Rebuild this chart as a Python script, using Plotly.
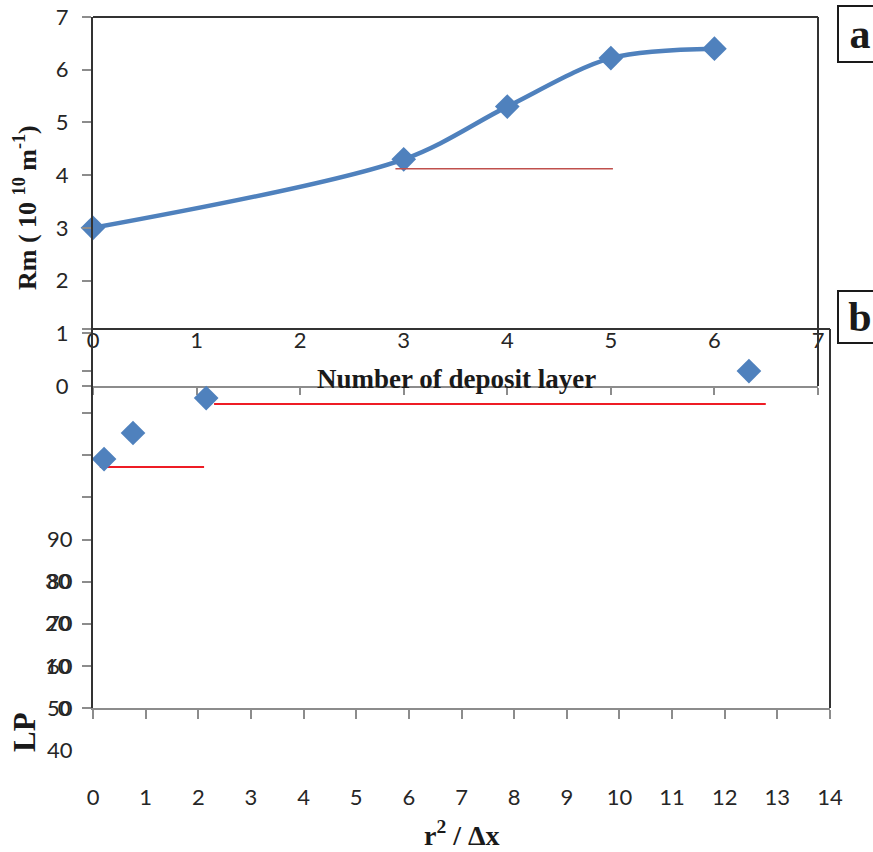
import plotly.graph_objects as go

W, H = 873, 852

# ---------------- data ----------------
# panel a
layers = [0, 3, 4, 5, 6]
rm_values = [3.0, 4.3, 5.3, 6.22, 6.4]
a_ticks = [0, 1, 2, 3, 4, 5, 6, 7]
a_red_x = [2.92, 5.02]
a_red_y = [4.12, 4.12]

# panel b
r2dx = [0.21, 0.76, 2.15, 12.46]
lp_values = [59.1, 65.3, 73.6, 80.0]
b_xticks = list(range(0, 15))
b_ylabels_low = [0, 10, 20, 30]
b_yticks_minor = [40, 50, 60, 70, 80, 90]
b_ylabels_high = [40, 50, 60, 70, 80, 90]
b_red1_x = [0.13, 2.11]
b_red1_y = [57.2, 57.2]
b_red2_x = [2.30, 12.78]
b_red2_y = [72.2, 72.2]


def px(x):
    return x / W


def py(y):
    return 1 - y / H


BLUE = "#4F81BD"
GRAY = "#8C8C8C"
DARK = "#333333"
TICKFONT = dict(family="Lato", size=22, color="#262626")
SERIF = "Liberation Serif"

fig = go.Figure()

fig.add_trace(go.Scatter(
    x=layers, y=rm_values, mode="lines+markers",
    line=dict(color=BLUE, width=4.5, shape="spline", smoothing=0.9),
    marker=dict(symbol="diamond", size=19, color=BLUE),
    xaxis="x", yaxis="y", cliponaxis=False, showlegend=False))
fig.add_trace(go.Scatter(
    x=a_red_x, y=a_red_y, mode="lines",
    line=dict(color="#C0504D", width=1.6),
    xaxis="x", yaxis="y", showlegend=False))

fig.add_trace(go.Scatter(
    x=b_red1_x, y=b_red1_y, mode="lines",
    line=dict(color="#EE1C25", width=2),
    xaxis="x2", yaxis="y2", showlegend=False))
fig.add_trace(go.Scatter(
    x=b_red2_x, y=b_red2_y, mode="lines",
    line=dict(color="#EE1C25", width=2),
    xaxis="x2", yaxis="y2", showlegend=False))
fig.add_trace(go.Scatter(
    x=r2dx, y=lp_values, mode="markers",
    marker=dict(symbol="diamond", size=19, color=BLUE),
    xaxis="x2", yaxis="y2", cliponaxis=False, showlegend=False))

# empty traces so that the label-only axes get drawn
for xa, ya in [("x3", "y"), ("x5", "y2"), ("x2", "y4")]:
    fig.add_trace(go.Scatter(x=[None], y=[None], mode="markers",
                             xaxis=xa, yaxis=ya, showlegend=False,
                             hoverinfo="skip"))

common = dict(showgrid=False, zeroline=False, automargin=False)

fig.update_layout(
    template="none",
    width=W, height=H,
    margin=dict(l=0, r=0, t=0, b=0, pad=0),
    paper_bgcolor="white", plot_bgcolor="rgba(0,0,0,0)",
    showlegend=False,
    # panel a
    xaxis=dict(domain=[px(93), px(818)], range=[0, 7], anchor="y",
               tickvals=a_ticks, showticklabels=False,
               ticks="outside", ticklen=7, tickcolor=GRAY, tickwidth=1.5,
               showline=True, linecolor=GRAY, linewidth=2, **common),
    yaxis=dict(domain=[py(386), py(17)], range=[0, 7], anchor="x",
               tickvals=a_ticks, ticks="outside", ticklen=9, tickcolor=GRAY,
               tickwidth=1.5, showline=True, linecolor=DARK, linewidth=2,
               tickfont=TICKFONT, ticklabelstandoff=9, **common),
    xaxis3=dict(overlaying="x", anchor="free", position=py(325), range=[0, 7],
                tickvals=a_ticks, ticks="", showline=False,
                tickfont=TICKFONT, **common),
    # panel b
    xaxis2=dict(domain=[px(93), px(830)], range=[0, 14], anchor="y2",
                tickvals=b_xticks, showticklabels=False,
                ticks="outside", ticklen=9, tickcolor=GRAY, tickwidth=1.5,
                showline=True, linecolor=GRAY, linewidth=2, **common),
    yaxis2=dict(domain=[py(708), py(329)], range=[0, 90], anchor="x2",
                tickvals=b_ylabels_low,
                ticks="outside", ticklen=9, tickcolor=GRAY, tickwidth=1.5,
                minor=dict(tickvals=b_yticks_minor, ticks="outside", ticklen=9,
                           tickcolor=GRAY, tickwidth=1.5, showgrid=False),
                showline=True, linecolor=DARK, linewidth=2,
                tickfont=TICKFONT, ticklabelstandoff=7, **common),
    xaxis5=dict(overlaying="x2", anchor="free", position=py(782), range=[0, 14],
                tickvals=b_xticks, ticks="", showline=False,
                tickfont=TICKFONT, **common),
    yaxis4=dict(domain=[py(750), py(329)], range=[40, 140], anchor="free",
                position=px(93), tickvals=b_ylabels_high,
                ticks="outside", ticklen=9, tickcolor="rgba(0,0,0,0)",
                showline=False, tickfont=TICKFONT, ticklabelstandoff=7,
                **common),
    shapes=[
        # frame of panel a (top + right)
        dict(type="line", xref="x domain", yref="y domain", x0=0, x1=1, y0=1, y1=1,
             line=dict(color=DARK, width=2)),
        dict(type="line", xref="x domain", yref="y domain", x0=1, x1=1, y0=0, y1=1,
             line=dict(color=DARK, width=2)),
        # frame of panel b (top + right)
        dict(type="line", xref="x2 domain", yref="y2 domain", x0=0, x1=1, y0=1, y1=1,
             line=dict(color=DARK, width=2)),
        dict(type="line", xref="x2 domain", yref="y2 domain", x0=1, x1=1, y0=0, y1=1,
             line=dict(color=DARK, width=2)),
    ],
    annotations=[
        dict(text="<b>Rm ( 10 <sup>10</sup> m<sup>-1</sup>)</b>", textangle=-90,
             x=px(26), y=py(208), xref="paper", yref="paper", showarrow=False,
             font=dict(family=SERIF, size=26, color="#1a1a1a"), xanchor="center",
             yanchor="middle"),
        dict(text="<b>Number of deposit layer</b>", x=px(456), y=py(379),
             xref="paper", yref="paper", showarrow=False,
             font=dict(family=SERIF, size=27, color="#1a1a1a"),
             xanchor="center", yanchor="middle"),
        dict(text="<b>LP</b>", textangle=-90, x=px(24), y=py(732),
             xref="paper", yref="paper", showarrow=False,
             font=dict(family=SERIF, size=31, color="#1a1a1a"),
             xanchor="center", yanchor="middle"),
        dict(text="<b>r<sup>2</sup> / Δx</b>", x=px(462), y=py(833),
             xref="paper", yref="paper", showarrow=False,
             font=dict(family=SERIF, size=28, color="#1a1a1a"),
             xanchor="center", yanchor="middle"),
        dict(text="<b>a</b>", x=px(837), y=py(5), xref="paper", yref="paper",
             showarrow=False, xanchor="left", yanchor="top",
             width=42, height=54, align="center",
             bordercolor="#1a1a1a", borderwidth=2, borderpad=0,
             font=dict(family=SERIF, size=42, color="#1a1a1a")),
        dict(text="<b>b</b>", x=px(837), y=py(290), xref="paper", yref="paper",
             showarrow=False, xanchor="left", yanchor="top",
             width=42, height=50, align="center",
             bordercolor="#1a1a1a", borderwidth=2, borderpad=0,
             font=dict(family=SERIF, size=42, color="#1a1a1a")),
    ],
)

fig.write_html("out.html",
               config={"displayModeBar": False},
               post_script="document.body.style.margin='0';"
                           "document.body.style.overflow='hidden';")
